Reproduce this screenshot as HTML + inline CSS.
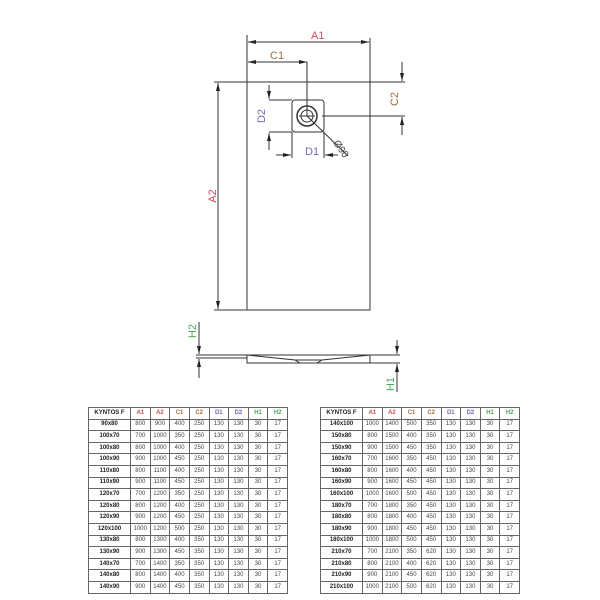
<!DOCTYPE html>
<html><head><style>
body{margin:0;background:#fff;width:600px;height:600px;position:relative;overflow:hidden;font-family:"Liberation Sans",sans-serif}
table{position:absolute;border-collapse:collapse;table-layout:fixed;border:1.5px solid #333;font-size:6px;color:#444}
td{border:1px solid #666;height:10.6px;padding:0;text-align:center;line-height:9px}
td:first-child{font-weight:bold;color:#222}
tr:first-child td{font-weight:bold}
.a{color:#d04a5a}.c{color:#a07040}.d{color:#7a6ab0}.h{color:#4aa85a}
</style></head><body>
<svg width="600" height="600" style="position:absolute;left:0;top:0" font-family="Liberation Sans" font-size="10">
<defs><marker id="ar" markerWidth="8" markerHeight="6" refX="8" refY="3" orient="auto-start-reverse"><path d="M0,1 L8,3 L0,5z" fill="#222"/></marker></defs>
<g stroke="#333" stroke-width="1" fill="none">
<rect x="247" y="82" width="123" height="228"/>
<line x1="247" y1="35" x2="247" y2="82"/><line x1="370" y1="38" x2="370" y2="82"/>
<line x1="248" y1="42" x2="369" y2="42" marker-start="url(#ar)" marker-end="url(#ar)"/>
<line x1="248" y1="62" x2="307" y2="62" marker-start="url(#ar)" marker-end="url(#ar)"/>
<line x1="307" y1="62" x2="307" y2="116"/>
<line x1="214" y1="82" x2="405" y2="82"/><line x1="214" y1="310" x2="247" y2="310"/>
<line x1="218" y1="83" x2="218" y2="309" marker-start="url(#ar)" marker-end="url(#ar)"/>
<line x1="322" y1="116" x2="405" y2="116"/>
<line x1="402" y1="62" x2="402" y2="81" marker-end="url(#ar)"/>
<line x1="402" y1="135" x2="402" y2="117" marker-end="url(#ar)"/>
<rect x="292" y="100" width="32" height="32" rx="3"/>
<circle cx="307" cy="116" r="10" stroke-width="1.5"/><circle cx="307" cy="116" r="6"/>
<line x1="299" y1="116" x2="315" y2="116"/>
<line x1="307" y1="116" x2="348" y2="156"/>
<line x1="269" y1="100" x2="292" y2="100"/><line x1="269" y1="132" x2="292" y2="132"/>
<line x1="269" y1="85" x2="269" y2="99" marker-end="url(#ar)"/>
<line x1="269" y1="150" x2="269" y2="133" marker-end="url(#ar)"/>
<line x1="292" y1="132" x2="292" y2="158"/><line x1="324" y1="132" x2="324" y2="158"/>
<line x1="276" y1="155" x2="291" y2="155" marker-end="url(#ar)"/>
<line x1="338" y1="155" x2="325" y2="155" marker-end="url(#ar)"/>
<rect x="247" y="355" width="123" height="8"/>
<path d="M247,355 L295,360 L300,363 M370,355 L322,360 L317,363 M295,360 L322,360"/>
<line x1="196" y1="355" x2="247" y2="355"/><line x1="196" y1="358" x2="247" y2="358"/>
<line x1="370" y1="355" x2="400" y2="355"/><line x1="370" y1="363" x2="400" y2="363"/>
<line x1="199" y1="322" x2="199" y2="354" marker-end="url(#ar)"/>
<line x1="199" y1="378" x2="199" y2="359" marker-end="url(#ar)"/>
<line x1="397" y1="340" x2="397" y2="354" marker-end="url(#ar)"/>
<line x1="397" y1="392" x2="397" y2="364" marker-end="url(#ar)"/>
</g>
<text x="311" y="39" fill="#d04a5a" font-size="11">A1</text>
<text x="270" y="59" fill="#a07040" font-size="11">C1</text>
<text x="305" y="155" fill="#7a6ab0" font-size="11">D1</text>
<text transform="translate(216,196) rotate(-90)" text-anchor="middle" fill="#d04a5a" font-size="11">A2</text>
<text transform="translate(265,116) rotate(-90)" text-anchor="middle" fill="#7a6ab0" font-size="11">D2</text>
<text transform="translate(398,99) rotate(-90)" text-anchor="middle" fill="#a07040" font-size="11">C2</text>
<text transform="translate(333,143) rotate(55)" fill="#444" font-size="10">Ø90</text>
<text transform="translate(196,331) rotate(-90)" text-anchor="middle" fill="#4aa85a" font-size="11">H2</text>
<text transform="translate(394,384) rotate(-90)" text-anchor="middle" fill="#4aa85a" font-size="11">H1</text>
</svg>
<table style="left:88px;top:407px;width:200px">
<colgroup><col style="width:42px"><col><col><col><col><col><col><col><col></colgroup>
<tr><td>KYNTOS F</td><td class="a">A1</td><td class="a">A2</td><td class="c">C1</td><td class="c">C2</td><td class="d">D1</td><td class="d">D2</td><td class="h">H1</td><td class="h">H2</td></tr>
<tr><td>90x80</td><td>800</td><td>900</td><td>400</td><td>250</td><td>130</td><td>130</td><td>30</td><td>17</td></tr>
<tr><td>100x70</td><td>700</td><td>1000</td><td>350</td><td>250</td><td>130</td><td>130</td><td>30</td><td>17</td></tr>
<tr><td>100x80</td><td>800</td><td>1000</td><td>400</td><td>250</td><td>130</td><td>130</td><td>30</td><td>17</td></tr>
<tr><td>100x90</td><td>900</td><td>1000</td><td>450</td><td>250</td><td>130</td><td>130</td><td>30</td><td>17</td></tr>
<tr><td>110x80</td><td>800</td><td>1100</td><td>400</td><td>250</td><td>130</td><td>130</td><td>30</td><td>17</td></tr>
<tr><td>110x90</td><td>900</td><td>1100</td><td>450</td><td>250</td><td>130</td><td>130</td><td>30</td><td>17</td></tr>
<tr><td>120x70</td><td>700</td><td>1200</td><td>350</td><td>250</td><td>130</td><td>130</td><td>30</td><td>17</td></tr>
<tr><td>120x80</td><td>800</td><td>1200</td><td>400</td><td>250</td><td>130</td><td>130</td><td>30</td><td>17</td></tr>
<tr><td>120x90</td><td>900</td><td>1200</td><td>450</td><td>250</td><td>130</td><td>130</td><td>30</td><td>17</td></tr>
<tr><td>120x100</td><td>1000</td><td>1200</td><td>500</td><td>250</td><td>130</td><td>130</td><td>30</td><td>17</td></tr>
<tr><td>130x80</td><td>800</td><td>1300</td><td>400</td><td>350</td><td>130</td><td>130</td><td>30</td><td>17</td></tr>
<tr><td>130x90</td><td>900</td><td>1300</td><td>450</td><td>350</td><td>130</td><td>130</td><td>30</td><td>17</td></tr>
<tr><td>140x70</td><td>700</td><td>1400</td><td>350</td><td>350</td><td>130</td><td>130</td><td>30</td><td>17</td></tr>
<tr><td>140x80</td><td>800</td><td>1400</td><td>400</td><td>350</td><td>130</td><td>130</td><td>30</td><td>17</td></tr>
<tr><td>140x90</td><td>900</td><td>1400</td><td>450</td><td>350</td><td>130</td><td>130</td><td>30</td><td>17</td></tr>
</table>
<table style="left:320px;top:407px;width:200px">
<colgroup><col style="width:42px"><col><col><col><col><col><col><col><col></colgroup>
<tr><td>KYNTOS F</td><td class="a">A1</td><td class="a">A2</td><td class="c">C1</td><td class="c">C2</td><td class="d">D1</td><td class="d">D2</td><td class="h">H1</td><td class="h">H2</td></tr>
<tr><td>140x100</td><td>1000</td><td>1400</td><td>500</td><td>350</td><td>130</td><td>130</td><td>30</td><td>17</td></tr>
<tr><td>150x80</td><td>800</td><td>1500</td><td>400</td><td>350</td><td>130</td><td>130</td><td>30</td><td>17</td></tr>
<tr><td>150x90</td><td>900</td><td>1500</td><td>450</td><td>350</td><td>130</td><td>130</td><td>30</td><td>17</td></tr>
<tr><td>160x70</td><td>700</td><td>1600</td><td>350</td><td>450</td><td>130</td><td>130</td><td>30</td><td>17</td></tr>
<tr><td>160x80</td><td>800</td><td>1600</td><td>400</td><td>450</td><td>130</td><td>130</td><td>30</td><td>17</td></tr>
<tr><td>160x90</td><td>900</td><td>1600</td><td>450</td><td>450</td><td>130</td><td>130</td><td>30</td><td>17</td></tr>
<tr><td>160x100</td><td>1000</td><td>1600</td><td>500</td><td>450</td><td>130</td><td>130</td><td>30</td><td>17</td></tr>
<tr><td>180x70</td><td>700</td><td>1800</td><td>350</td><td>450</td><td>130</td><td>130</td><td>30</td><td>17</td></tr>
<tr><td>180x80</td><td>800</td><td>1800</td><td>400</td><td>450</td><td>130</td><td>130</td><td>30</td><td>17</td></tr>
<tr><td>180x90</td><td>900</td><td>1800</td><td>450</td><td>450</td><td>130</td><td>130</td><td>30</td><td>17</td></tr>
<tr><td>180x100</td><td>1000</td><td>1800</td><td>500</td><td>450</td><td>130</td><td>130</td><td>30</td><td>17</td></tr>
<tr><td>210x70</td><td>700</td><td>2100</td><td>350</td><td>620</td><td>130</td><td>130</td><td>30</td><td>17</td></tr>
<tr><td>210x80</td><td>800</td><td>2100</td><td>400</td><td>620</td><td>130</td><td>130</td><td>30</td><td>17</td></tr>
<tr><td>210x90</td><td>900</td><td>2100</td><td>450</td><td>620</td><td>130</td><td>130</td><td>30</td><td>17</td></tr>
<tr><td>210x100</td><td>1000</td><td>2100</td><td>500</td><td>620</td><td>130</td><td>130</td><td>30</td><td>17</td></tr>
</table>
</body></html>
